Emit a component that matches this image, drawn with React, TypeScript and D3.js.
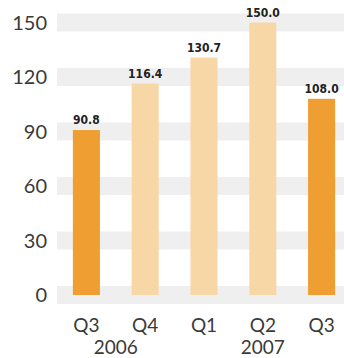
import React from "react";
import * as d3 from "d3";

const categories = ["Q3 2006", "Q4 2006", "Q1 2007", "Q2 2007", "Q3 2007"];
const quarterLabels = ["Q3", "Q4", "Q1", "Q2", "Q3"];
const values = [90.8, 116.4, 130.7, 150.0, 108.0];
const highlighted = [true, false, false, false, true];
const yTicks = [0, 30, 60, 90, 120, 150];
const years = [
  { label: "2006", from: "Q3 2006", to: "Q4 2006" },
  { label: "2007", from: "Q1 2007", to: "Q3 2007" },
];

const W = 344;
const H = 358;
const DARK = "#EF9E32";
const LIGHT = "#F8D7A7";
const BAND = "#EFEFEF";

export default function App() {
  const x = d3
    .scaleBand<string>()
    .domain(categories)
    .range([57, 351])
    .paddingInner(0.54)
    .paddingOuter(0.27);
  const y = d3.scaleLinear().domain([0, 150]).range([295, 22.5]);
  const bandH = 18;
  const tickFont = "'Lato', 'DejaVu Sans', sans-serif";

  return (
    <svg
      width={W}
      height={H}
      style={{ position: "absolute", left: 0, top: 0, background: "#fff" }}
    >
      {yTicks.map((t) => (
        <g key={t}>
          <rect x={57} y={y(t) - bandH / 2} width={W - 57} height={bandH} fill={BAND} />
          <text
            x={47}
            y={y(t)}
            dy="0.36em"
            textAnchor="end"
            fontFamily={tickFont}
            fontSize={20}
            fill="#3a3a3a"
          >
            {t}
          </text>
        </g>
      ))}
      {categories.map((c, i) => (
        <g key={c}>
          <rect
            x={x(c)}
            y={y(values[i])}
            width={x.bandwidth()}
            height={y(0) - y(values[i])}
            fill={highlighted[i] ? DARK : LIGHT}
          />
          <text
            x={(x(c) as number) + x.bandwidth() / 2}
            y={y(values[i]) - 6}
            textAnchor="middle"
            fontFamily="'DejaVu Sans Condensed', 'DejaVu Sans', sans-serif"
            fontWeight="bold"
            fontSize={12}
            fill="#222"
          >
            {values[i].toFixed(1)}
          </text>
          <text
            x={(x(c) as number) + x.bandwidth() / 2}
            y={332}
            textAnchor="middle"
            fontFamily={tickFont}
            fontSize={19}
            fill="#3a3a3a"
          >
            {quarterLabels[i]}
          </text>
        </g>
      ))}
      {years.map((yr) => {
        const a = (x(yr.from) as number) + x.bandwidth() / 2;
        const b = (x(yr.to) as number) + x.bandwidth() / 2;
        return (
          <text
            key={yr.label}
            x={(a + b) / 2}
            y={354}
            textAnchor="middle"
            fontFamily={tickFont}
            fontSize={19}
            fill="#3a3a3a"
          >
            {yr.label}
          </text>
        );
      })}
    </svg>
  );
}
